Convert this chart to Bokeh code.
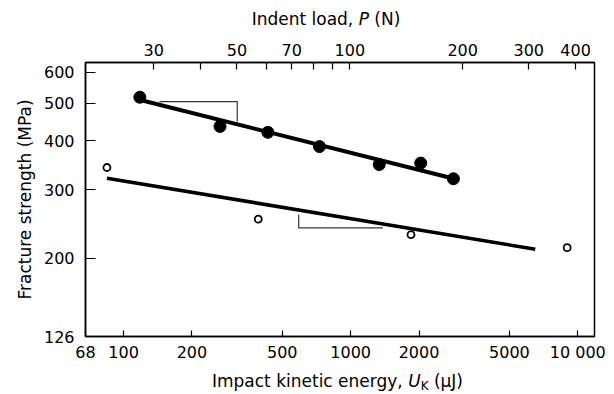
from bokeh.plotting import figure
from bokeh.models import Range1d, LogAxis, FixedTicker, LogScale, Div
from bokeh.layouts import column
from bokeh.embed import file_html
from bokeh.resources import INLINE

# ---- data ----
energy_ticks = [68, 100, 200, 500, 1000, 2000, 5000, 10000]
energy_tick_labels = ["68", "100", "200", "500", "1000", "2000", "5000", "10 000"]
load_ticks = [30, 50, 70, 100, 200, 300, 400]
load_tick_labels = ["30", "50", "70", "100", "200", "300", "400"]
load_minor_ticks = [40, 60, 80, 90]
strength_ticks = [126, 200, 300, 400, 500, 600]
strength_tick_labels = ["126", "200", "300", "400", "500", "600"]

# filled points
filled_energy = [118, 266, 432, 729, 1336, 2035, 2835]
filled_strength = [518, 436, 421, 387, 348, 351, 320]
# open points
open_energy = [84.5, 392, 1844, 8980]
open_strength = [342, 252, 230, 213]
# fitted lines
upper_fit_energy = [121, 2800]
upper_fit_strength = [508, 321]
lower_fit_energy = [84.5, 6500]
lower_fit_strength = [321, 211]
# slope triangles
upper_tri_energy = [143.8, 316.7, 316.7]
upper_tri_strength = [505, 505, 449]
lower_tri_energy = [590.6, 590.6, 1387]
lower_tri_strength = [259, 239.4, 239.4]

FONT = "DejaVu Sans"

p = figure(width=614, height=334, x_axis_type="log", y_axis_type="log",
           x_range=Range1d(68, 11850), y_range=Range1d(126, 636),
           output_backend="svg", toolbar_location=None,
           min_border_left=85, min_border_right=20,
           min_border_top=32, min_border_bottom=27,
           background_fill_color="white", border_fill_color="white",
           margin=0)

p.xgrid.visible = False
p.ygrid.visible = False
p.outline_line_color = "black"
p.outline_line_width = 1.5

p.extra_x_ranges = {"load": Range1d(19.73, 449.2)}
p.extra_x_scales = {"load": LogScale()}

# bottom axis
xa = p.xaxis[0]
xa.ticker = FixedTicker(ticks=energy_ticks, minor_ticks=[])
xa.major_label_overrides = {t: l for t, l in zip(energy_ticks, energy_tick_labels)}
xa.major_tick_in = 6
xa.major_tick_out = 0
xa.minor_tick_in = 0
xa.minor_tick_out = 0
xa.major_label_standoff = 6
xa.major_label_text_font = FONT
xa.major_label_text_font_size = "16px"
xa.major_label_text_color = "black"
xa.axis_line_width = 1.5
xa.major_tick_line_width = 1.2
xa.axis_label = None

# left axis
ya = p.yaxis[0]
ya.ticker = FixedTicker(ticks=strength_ticks, minor_ticks=[])
ya.major_label_overrides = {t: l for t, l in zip(strength_ticks, strength_tick_labels)}
ya.major_tick_in = 10
ya.major_tick_out = 0
ya.minor_tick_in = 0
ya.minor_tick_out = 0
ya.major_label_standoff = 11
ya.major_label_text_font = FONT
ya.major_label_text_font_size = "16px"
ya.major_label_text_color = "black"
ya.axis_line_width = 1.5
ya.major_tick_line_width = 1.2
ya.axis_label = "Fracture strength (MPa)"
ya.axis_label_text_font = FONT
ya.axis_label_text_font_size = "17px"
ya.axis_label_text_font_style = "normal"
ya.axis_label_text_color = "black"
ya.axis_label_standoff = 6

# top axis
ta = LogAxis(x_range_name="load",
             ticker=FixedTicker(ticks=load_ticks, minor_ticks=load_minor_ticks))
ta.major_label_overrides = {t: l for t, l in zip(load_ticks, load_tick_labels)}
ta.major_tick_in = 7
ta.major_tick_out = 0
ta.minor_tick_in = 7
ta.minor_tick_out = 0
ta.major_label_standoff = 7
ta.major_label_text_font = FONT
ta.major_label_text_font_size = "16px"
ta.major_label_text_color = "black"
ta.axis_line_width = 1.5
ta.major_tick_line_width = 1.2
ta.minor_tick_line_width = 1.2
ta.minor_tick_line_color = "black"
p.add_layout(ta, "above")

# fitted lines
p.line(upper_fit_energy, upper_fit_strength, line_color="black", line_width=4)
p.line(lower_fit_energy, lower_fit_strength, line_color="black", line_width=3.6)
# slope triangles
p.line(upper_tri_energy, upper_tri_strength, line_color="#333333", line_width=1.2)
p.line(lower_tri_energy, lower_tri_strength, line_color="#333333", line_width=1.2)
# points
p.scatter(filled_energy, filled_strength, marker="circle", size=12,
          fill_color="black", line_color="black")
p.scatter(open_energy, open_strength, marker="circle", size=7,
          fill_color="white", line_color="black", line_width=1.8)

# axis titles with italic symbols, as HTML text
base = ("font-family:'DejaVu Sans'; font-size:17px; line-height:20px; "
        "color:black; white-space:nowrap; text-align:center; box-sizing:content-box;")
top_html = ('<div style="%s padding-left:38px; width:576px; padding-top:9px;">'
            'Indent load, <i>P</i> (N)</div>' % base)
bottom_html = ('<div style="%s padding-left:61px; width:553px; padding-top:7px;">'
               'Impact kinetic energy, <i>U</i><span style="font-size:12px; '
               'position:relative; top:3px;">K</span> (\u00b5J)</div>' % base)

top_div = Div(text=top_html, width=614, height=30, margin=0)
bottom_div = Div(text=bottom_html, width=614, height=30, margin=0)

layout = column(top_div, p, bottom_div, spacing=0)

open("out.html", "w").write(file_html(layout, INLINE))
